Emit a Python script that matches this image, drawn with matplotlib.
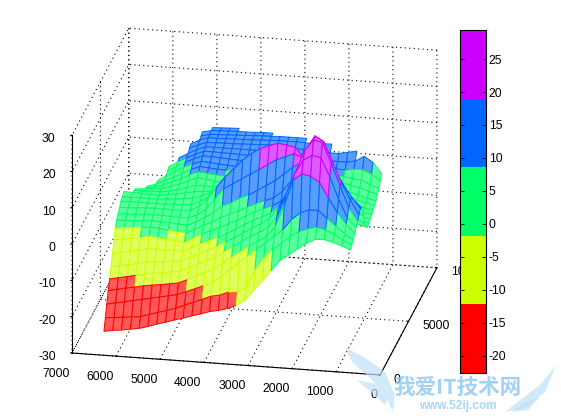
import numpy as np
import matplotlib
matplotlib.use('Agg')
import matplotlib.pyplot as plt
from matplotlib.colors import ListedColormap, Normalize
from matplotlib.cm import ScalarMappable
from matplotlib.patches import Polygon
from mpl_toolkits.mplot3d.art3d import Poly3DCollection
from mpl_toolkits.mplot3d import proj3d

plt.rcParams['font.family'] = ['Liberation Sans', 'DejaVu Sans']
plt.rcParams['axes.unicode_minus'] = False

n = float('nan')
x_values = [6300 - 200 * i for i in range(29)]
y_values = [200 + 250 * j for j in range(28)]
x_ticks = [0, 1000, 2000, 3000, 4000, 5000, 6000, 7000]
y_ticks = [0, 5000, 10000]
z_ticks = [-30, -20, -10, 0, 10, 20, 30]
cbar_ticks = [-20, -15, -10, -5, 0, 5, 10, 15, 20, 25]
z_min, z_max = -22.6, 29.4
band_colors = ['#ff0000', '#ccff00', '#00ff66', '#0066ff', '#cc00ff']

z_rows = [
[-24,-23.6,-23.3,-22.9,-22.5,-21.8,-21,-20.3,-19.5,-18.8,-18,-17.3,-16.5,-16,-15.3,-14.3,-12.8,-9.8,-7,-4,-1,.7,2.5,4.2,5.5,5.6,5,4.2,3.3],
[-21,-20.8,-20.5,-20.3,-20,-19.2,-18.5,-17.8,-17,-16,-15,-14,-13,-12.5,-11.5,-11.2,-10,-5,-1.5,1,3,5,6.5,7.5,8,7.5,6.5,5,4],
[-18,-17.5,-17,-16.5,-16,-15.5,-15,-14.5,-14,-13,-12,-11,-10,-8,-6,-4,-2,0,2,4,6,9,11,12,12,10,8,6,4.5],
[-15,-14.5,-14,-13.5,-13,-12.6,-12.3,-11.9,-11.5,-10.4,-9.3,-8.2,-7,-5.2,-3.5,-1.7,0,1.5,3,6,12,19,21,20.5,19,15,11,8,5.5],
[-12.5,-12,-11.5,-11,-10.5,-10.1,-9.8,-9.4,-9,-7.9,-6.8,-5.6,-4.5,-2.8,-1.2,.4,2,3.2,4.8,8,14,20,24,25.5,25,20,14,9,6.5],
[-10,-9.5,-9,-8.5,-8,-7.7,-7.5,-7.2,-7,-5.8,-4.6,-3.4,-2.3,-.8,.6,2,3.5,4.8,6.5,9.5,14,20,26,29,28.5,23,17,11,7.5],
[-7,-6.5,-6,-5.5,-5,-5,-5,-5,-5,-3.8,-2.6,-1.5,-.5,.8,2.2,3.6,5,6,7.3,9.5,13,19,25.5,29.4,28,22.5,17,12.5,8.5],
[-4,-3.6,-3.2,-2.8,-2.3,-2.5,-2.8,-3,-3.3,-2,-.7,.5,1.5,2.7,3.9,5.2,6.5,7.5,8.5,10,13,17,22,26,24,20,16,12.5,9.5],
[-1.5,-1.2,-1,-.8,-.5,-.7,-1,-1.3,-1.5,-.3,1,2.2,3.5,4.6,5.7,6.9,8,9,10,12,15,18,20.5,21,19,16,13.5,11,9],
[0,.1,.2,.3,.5,.4,.3,.1,0,1,2.5,4,6,7,8.5,9.5,11,12.5,14,16,18,19.5,19,17,14,11.5,9.5,7.5,6],
[1,1.1,1.2,1.4,1.5,1.4,1.3,1.2,1.2,2.3,4,7,10,11.5,13,14.5,16,17.5,19,20,21,20,17,13.5,10,8,6,4.5,3],
[2,2.1,2.2,2.4,2.5,2.5,2.4,2.4,2.5,3.8,6,9.5,12.5,15,17.5,19.5,21,22,22.8,22.5,22,19,15,10.5,7,5,3.5,2.3,1.5],
[3,3,3,3,3,3,3.2,3.3,3.5,4.5,6,8.5,10.5,13,15,17.5,19,20.5,21,20,18,15,11.5,8,5,3.5,2.3,1.3,.7],
[3.5,3.5,3.5,3.5,3.5,3.7,3.9,4.2,4.5,5.3,6.2,7.2,8,9.5,11,12.5,14,15,15.5,14.5,13,10.5,8,5.8,4,3,2.2,1.5,1],
[4.2,4.1,4,3.9,3.8,4.2,4.6,5,5.5,5.8,6,6.3,6.5,7,7.5,8.2,9,9.5,9.8,9.5,9,7.5,6,4.6,3.5,2.8,2.3,1.8,1.5],
[n,3.9,4,4,4,4.5,5,5.7,6.5,6.5,6.5,6.5,6.5,6.7,6.8,6.9,7,7.3,7.5,7.3,7,6,5,4.2,3.5,3,2.6,2.3,2],
[n,3.6,3.8,4,4.2,5,5.8,6.8,8,7.6,7.3,7,7,6.8,6.7,6.6,6.5,6.4,6.3,6.2,6,5.5,5,4.5,4,3.6,3.2,2.8,2.5],
[n,n,3.3,3.8,4.5,5.5,6.5,7.8,8.8,8.5,8.3,8.1,8,7.7,7.5,7.2,7,6.9,6.8,6.6,6.5,6.1,5.7,5.3,5,4.5,4,3.5,3],
[n,n,3,3.8,5,6,7.2,8.5,9.5,9.3,9.1,9,8.8,8.6,8.4,8.2,8,7.8,7.5,7.2,7,6.8,6.5,6.2,6,5.4,4.8,4,3.5],
[n,n,n,4,5.5,7,8.2,9.3,10.2,10,9.8,9.6,9.5,9.4,9.3,9.1,9,8.8,8.5,8.2,8,7.8,7.5,7.2,7,6.5,6,5.2,4.5],
[n,n,n,n,6,7.5,8.8,10,11,10.9,10.8,10.6,10.5,10.4,10.3,10.1,10,9.8,9.5,9.2,9,8.8,8.5,8.3,8,7.5,7.5,6.2,5.5],
[n,n,n,n,6.6,8,9.3,10.5,11.5,11.5,11.4,11.4,11.3,11.2,11.1,11,11,10.8,10.5,10.2,10,9.8,9.5,9.3,9,9.5,9.5,8.5,6.8],
[n,n,n,n,n,8.5,9.8,11,12,12,12,12,12,12,12,12,12,11.8,11.5,11.2,11,10.8,10.6,10.5,10.5,11,12.5,11,8],
[n,n,n,n,n,n,10.5,11.6,12.5,12.5,12.6,12.6,12.7,12.8,12.9,13,13,12.8,12.6,12.3,12,12,12,12,12.5,13],
[n,n,n,n,n,n,11,12.2,13,13,13.1,13.2,13.2,13.3,13.4,13.5,13.6,13.6,13.6,13.5,13.5,13.6,13.7],
[n,n,n,n,n,n,n,12.6,13.2,13.3,13.4,13.5,13.6,13.7,13.8,13.9,14,14,14,14],
[n,n,n,n,n,n,n,13,13.5,13.6,13.7,13.8,13.8,13.9,14,14],
[n,n,n,n,n,n,n,n,13.6,13.7,13.8,13.9],
]

W, H = 561, 420
fig = plt.figure(figsize=(W / 100, H / 100), dpi=100, facecolor='white')
ax = fig.add_axes([0.0, 0.0, 1.0, 1.0], projection='3d')
ax.set_proj_type('ortho')
ax.view_init(elev=21.5, azim=-79)
ax.set_box_aspect((314, 298, 234))
ax.set_xlim(7000, 0, view_margin=0)
ax.set_ylim(0, 10000, view_margin=0)
ax.set_zlim(-30, 30, view_margin=0)

Z = np.array([r + [n] * (29 - len(r)) for r in z_rows], dtype=float)
X, Y = np.meshgrid(x_values, y_values)
cmap = ListedColormap(band_colors)
norm = Normalize(z_min, z_max)
polys, edges, faces = [], [], []
for j in range(Z.shape[0] - 1):
    for i in range(Z.shape[1] - 1):
        zc = Z[j:j + 2, i:i + 2]
        if np.isnan(zc).any():
            continue
        polys.append([(X[j, i], Y[j, i], Z[j, i]), (X[j, i + 1], Y[j, i + 1], Z[j, i + 1]),
                      (X[j + 1, i + 1], Y[j + 1, i + 1], Z[j + 1, i + 1]), (X[j + 1, i], Y[j + 1, i], Z[j + 1, i])])
        c = np.array(cmap(norm(zc.mean())))
        edges.append(tuple(c))
        faces.append(tuple(0.65 * c + 0.35))
ax.add_collection3d(Poly3DCollection(polys, facecolors=faces, edgecolors=edges, linewidths=0.7))

ax.set_xticks(x_ticks)
ax.set_yticks(y_ticks)
ax.set_zticks(z_ticks)
for axis in (ax.xaxis, ax.yaxis, ax.zaxis):
    axis.set_pane_color((1, 1, 1, 0))
    axis.pane.set_edgecolor((1, 1, 1, 0))
    axis.line.set_color('black')
    axis.line.set_linewidth(0.8)
    axis._axinfo['grid'].update(color='black', linewidth=0.8, linestyle=(0, (1, 3)))
    axis._axinfo['tick'].update(inward_factor=0.0, outward_factor=0.05)
    axis._axinfo['tick']['linewidth'] = {True: 0.8, False: 0.5}
ax.zaxis.set_ticks_position('lower')
ax.zaxis._get_tickdir = lambda pos: 0
ax.tick_params(axis='x', labelsize=8.8, pad=0)
ax.tick_params(axis='y', labelsize=8.8, pad=0)
ax.tick_params(axis='z', labelsize=8.8, pad=0)
for t in ax.xaxis.get_major_ticks():
    t.label1.set_ha('right')
for t in ax.yaxis.get_major_ticks():
    t.label1.set_ha('left')
    t.label1.set_va('bottom')
for t in ax.zaxis.get_major_ticks():
    t.label1.set_ha('right')
    t.label1.set_va('center')

# fit the box to the reference's corners (pixel positions)
target_a, target_b = np.array([72.0, 353.0]), np.array([437.0, 268.0])
def pix(px, py, pz):
    fig.canvas.draw()
    a, b, _ = proj3d.proj_transform(px, py, pz, ax.get_proj())
    return ax.transData.transform((a, b))
for _ in range(3):
    pa = pix(7000, 0, -30)
    pb = pix(0, 10000, -30)
    pa = np.array([pa[0], H - pa[1]])
    pb = np.array([pb[0], H - pb[1]])
    s = np.linalg.norm(target_b - target_a) / np.linalg.norm(pb - pa)
    p = ax.get_position()
    nw, nh = p.width * s, p.height * s
    ax.set_position([p.x0, p.y0, nw, nh])
    pa = pix(7000, 0, -30)
    pa = np.array([pa[0], H - pa[1]])
    d = target_a - pa
    p = ax.get_position()
    ax.set_position([p.x0 + d[0] / W, p.y0 - d[1] / H, p.width, p.height])

cax = fig.add_axes([459.5 / W, 1 - 373 / H, 26.5 / W, 343 / H])
cb = fig.colorbar(ScalarMappable(norm=norm, cmap=cmap), cax=cax, ticks=cbar_ticks)
cb.ax.tick_params(labelsize=8.8, direction='in', length=3, width=0.6, left=True, right=True, pad=2)
cb.outline.set_linewidth(0.8)
cb.minorticks_off()

# watermark
def fx(pts):
    return [(a / W, 1 - b / H) for a, b in pts]
wing = '#bfe0f7'
for pts in ([(345, 347), (365, 358), (385, 372), (395, 395), (393, 412), (385, 395), (370, 378), (352, 362)],
            [(357, 380), (375, 384), (388, 398), (385, 405), (372, 393)],
            [(556, 365), (540, 385), (520, 400), (505, 412), (525, 408), (545, 392)],
            [(540, 397), (525, 402), (512, 412), (528, 410)]):
    fig.add_artist(Polygon(fx(pts), closed=True, transform=fig.transFigure, facecolor=wing, edgecolor='none', alpha=0.7, zorder=10))
fig.text(457.5 / W, 1 - 387 / H, '我爱IT技术网', family=['Noto Sans CJK SC', 'DejaVu Sans'], fontsize=15.5,
         fontweight='bold', color='#8cc6f0', alpha=0.8, ha='center', va='center', zorder=11)
fig.text(458 / W, 1 - 406 / H, 'www.52ij.com', fontsize=8.5, color='#a9d6f5', ha='center', va='center', zorder=11,
         family=['Liberation Sans'], fontweight='bold')

fig.savefig('out.png', dpi=100, facecolor='white')
